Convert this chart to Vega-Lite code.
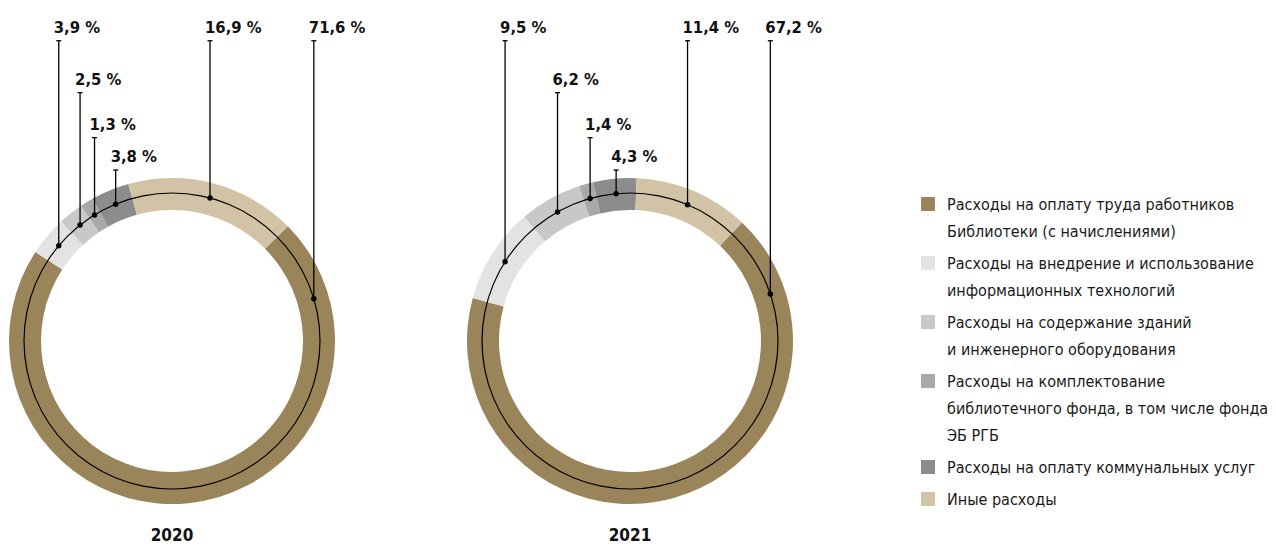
{
  "$schema": "https://vega.github.io/schema/vega-lite/v6.json",
  "padding": 0,
  "bounds": "flush",
  "spacing": 114,
  "config": {"view": {"stroke": null}, "font": "DejaVu Sans Condensed, sans-serif"},
  "datasets": {
    "d": [
      {"year": 2020, "k": 0, "pct": 71.6, "cat": "Расходы на оплату труда работников\nБиблиотеки (с начислениями)"},
      {"year": 2020, "k": 1, "pct": 3.9, "cat": "Расходы на внедрение и использование\nинформационных технологий"},
      {"year": 2020, "k": 2, "pct": 2.5, "cat": "Расходы на содержание зданий\nи инженерного оборудования"},
      {"year": 2020, "k": 3, "pct": 1.3, "cat": "Расходы на комплектование\nбиблиотечного фонда, в том числе фонда\nЭБ РГБ"},
      {"year": 2020, "k": 4, "pct": 3.8, "cat": "Расходы на оплату коммунальных услуг"},
      {"year": 2020, "k": 5, "pct": 16.9, "cat": "Иные расходы"},
      {"year": 2021, "k": 0, "pct": 67.2, "cat": "Расходы на оплату труда работников\nБиблиотеки (с начислениями)"},
      {"year": 2021, "k": 1, "pct": 9.5, "cat": "Расходы на внедрение и использование\nинформационных технологий"},
      {"year": 2021, "k": 2, "pct": 6.2, "cat": "Расходы на содержание зданий\nи инженерного оборудования"},
      {"year": 2021, "k": 3, "pct": 1.4, "cat": "Расходы на комплектование\nбиблиотечного фонда, в том числе фонда\nЭБ РГБ"},
      {"year": 2021, "k": 4, "pct": 4.3, "cat": "Расходы на оплату коммунальных услуг"},
      {"year": 2021, "k": 5, "pct": 11.4, "cat": "Иные расходы"}
    ]
  },
  "hconcat": [
    {
      "width": 344,
      "height": 515,
      "title": {"text": "2020", "orient": "bottom", "anchor": "middle", "offset": 13, "fontSize": 17, "fontWeight": "bold", "color": "#111111", "font": "DejaVu Sans Condensed, sans-serif"},
      "data": {"name": "d"},
      "transform": [
        {"filter": "datum.year == 2020"},
        {"stack": "pct", "groupby": ["year"], "sort": [{"field": "k", "order": "ascending"}], "offset": "normalize", "as": ["s0", "s1"]},
        {"calculate": "0.7906 + datum.s0 * 2 * PI", "as": "a0"},
        {"calculate": "0.7906 + datum.s1 * 2 * PI", "as": "a1"},
        {"calculate": "datum.a1 - datum.a0 > PI ? datum.a0 + 0.49 : (datum.a0 + datum.a1) / 2", "as": "am"},
        {"calculate": "sin(datum.am)", "as": "px"},
        {"calculate": "cos(datum.am)", "as": "py"},
        {"calculate": "[2.029, 2.029, 1.678, 1.374, 1.155, 2.029][datum.k]", "as": "ty"},
        {"calculate": "replace(format(datum.pct, '.1f'), '.', ',') + ' %'", "as": "lbl"}
      ],
      "layer": [
        {
          "mark": {"type": "arc", "radius": 163, "radius2": 131},
          "encoding": {
            "x": {"datum": 0, "type": "quantitative", "scale": {"domain": [-1.1622, 1.1622], "nice": false, "zero": false}, "axis": null},
            "y": {"datum": 0, "type": "quantitative", "scale": {"domain": [-1.1757, 2.3041], "nice": false, "zero": false}, "axis": null},
            "theta": {"field": "a0", "type": "quantitative", "scale": null},
            "theta2": {"field": "a1"},
            "color": {"field": "cat", "type": "nominal", "legend": null,
              "scale": {"domain": ["Расходы на оплату труда работников\nБиблиотеки (с начислениями)", "Расходы на внедрение и использование\nинформационных технологий", "Расходы на содержание зданий\nи инженерного оборудования", "Расходы на комплектование\nбиблиотечного фонда, в том числе фонда\nЭБ РГБ", "Расходы на оплату коммунальных услуг", "Иные расходы"],
                "range": ["#9A8459", "#E3E3E3", "#C8C8C8", "#A9A9A9", "#8C8C8C", "#D3C3A6"]}}
          }
        },
        {
          "data": {"values": [{"c": 1}]},
          "mark": {"type": "arc", "radius": 148.6, "radius2": 147.4, "theta": 0, "theta2": 6.2832, "color": "#000000"},
          "encoding": {
            "x": {"datum": 0, "type": "quantitative"},
            "y": {"datum": 0, "type": "quantitative"}
          }
        },
        {
          "mark": {"type": "rule", "color": "#000000", "strokeWidth": 1.3},
          "encoding": {
            "x": {"field": "px", "type": "quantitative"},
            "y": {"field": "py", "type": "quantitative"},
            "y2": {"field": "ty"}
          }
        },
        {
          "mark": {"type": "point", "shape": "M-1,0H1", "filled": false, "size": 25, "color": "#000000", "strokeWidth": 1.3, "opacity": 1},
          "encoding": {
            "x": {"field": "px", "type": "quantitative"},
            "y": {"field": "ty", "type": "quantitative"}
          }
        },
        {
          "mark": {"type": "point", "shape": "circle", "filled": true, "size": 30, "color": "#000000", "opacity": 1},
          "encoding": {
            "x": {"field": "px", "type": "quantitative"},
            "y": {"field": "py", "type": "quantitative"}
          }
        },
        {
          "mark": {"type": "text", "align": "left", "baseline": "alphabetic", "dx": -5, "dy": -8, "fontSize": 16.5, "fontWeight": "bold", "color": "#111111"},
          "encoding": {
            "x": {"field": "px", "type": "quantitative"},
            "y": {"field": "ty", "type": "quantitative"},
            "text": {"field": "lbl"}
          }
        }
      ]
    },
    {
      "width": 344,
      "height": 515,
      "title": {"text": "2021", "orient": "bottom", "anchor": "middle", "offset": 13, "fontSize": 17, "fontWeight": "bold", "color": "#111111", "font": "DejaVu Sans Condensed, sans-serif"},
      "data": {"name": "d"},
      "transform": [
        {"filter": "datum.year == 2021"},
        {"stack": "pct", "groupby": ["year"], "sort": [{"field": "k", "order": "ascending"}], "offset": "normalize", "as": ["s0", "s1"]},
        {"calculate": "0.7575 + datum.s0 * 2 * PI", "as": "a0"},
        {"calculate": "0.7575 + datum.s1 * 2 * PI", "as": "a1"},
        {"calculate": "datum.a1 - datum.a0 > PI ? datum.a0 + 0.49 : (datum.a0 + datum.a1) / 2", "as": "am"},
        {"calculate": "sin(datum.am)", "as": "px"},
        {"calculate": "cos(datum.am)", "as": "py"},
        {"calculate": "[2.029, 2.029, 1.678, 1.374, 1.155, 2.029][datum.k]", "as": "ty"},
        {"calculate": "replace(format(datum.pct, '.1f'), '.', ',') + ' %'", "as": "lbl"}
      ],
      "layer": [
        {
          "mark": {"type": "arc", "radius": 163, "radius2": 131},
          "encoding": {
            "x": {"datum": 0, "type": "quantitative", "scale": {"domain": [-1.1622, 1.1622], "nice": false, "zero": false}, "axis": null},
            "y": {"datum": 0, "type": "quantitative", "scale": {"domain": [-1.1757, 2.3041], "nice": false, "zero": false}, "axis": null},
            "theta": {"field": "a0", "type": "quantitative", "scale": null},
            "theta2": {"field": "a1"},
            "color": {"field": "cat", "type": "nominal", "legend": null}
          }
        },
        {
          "data": {"values": [{"c": 1}]},
          "mark": {"type": "arc", "radius": 148.6, "radius2": 147.4, "theta": 0, "theta2": 6.2832, "color": "#000000"},
          "encoding": {
            "x": {"datum": 0, "type": "quantitative"},
            "y": {"datum": 0, "type": "quantitative"}
          }
        },
        {
          "mark": {"type": "rule", "color": "#000000", "strokeWidth": 1.3},
          "encoding": {
            "x": {"field": "px", "type": "quantitative"},
            "y": {"field": "py", "type": "quantitative"},
            "y2": {"field": "ty"}
          }
        },
        {
          "mark": {"type": "point", "shape": "M-1,0H1", "filled": false, "size": 25, "color": "#000000", "strokeWidth": 1.3, "opacity": 1},
          "encoding": {
            "x": {"field": "px", "type": "quantitative"},
            "y": {"field": "ty", "type": "quantitative"}
          }
        },
        {
          "mark": {"type": "point", "shape": "circle", "filled": true, "size": 30, "color": "#000000", "opacity": 1},
          "encoding": {
            "x": {"field": "px", "type": "quantitative"},
            "y": {"field": "py", "type": "quantitative"}
          }
        },
        {
          "mark": {"type": "text", "align": "left", "baseline": "alphabetic", "dx": -5, "dy": -8, "fontSize": 16.5, "fontWeight": "bold", "color": "#111111"},
          "encoding": {
            "x": {"field": "px", "type": "quantitative"},
            "y": {"field": "ty", "type": "quantitative"},
            "text": {"field": "lbl"}
          }
        }
      ]
    },
    {
      "width": 360,
      "height": 515,
      "data": {"name": "d"},
      "transform": [
        {"filter": "datum.year == 2020"},
        {"calculate": "length(split(datum.cat, '\\n'))", "as": "nl"},
        {"window": [{"op": "sum", "field": "nl", "as": "cum"}, {"op": "row_number", "as": "idx"}], "sort": [{"field": "k", "order": "ascending"}], "frame": [null, 0]},
        {"calculate": "(datum.cum - datum.nl) * 27 + (datum.idx - 1) * 5", "as": "ly"}
      ],
      "layer": [
        {
          "mark": {"type": "point", "shape": "square", "filled": true, "size": 196, "opacity": 1},
          "encoding": {
            "x": {"value": 12},
            "y": {"field": "ly", "type": "quantitative", "scale": {"domain": [-204, 311], "reverse": true, "nice": false, "zero": false}, "axis": null},
            "color": {"field": "cat", "type": "nominal", "legend": null}
          }
        },
        {
          "mark": {"type": "text", "align": "left", "baseline": "top", "dy": -7, "lineBreak": "\n", "lineHeight": 27, "fontSize": 16, "color": "#1a1a1a"},
          "encoding": {
            "x": {"value": 31},
            "y": {"field": "ly", "type": "quantitative"},
            "text": {"field": "cat"}
          }
        }
      ]
    }
  ]
}
